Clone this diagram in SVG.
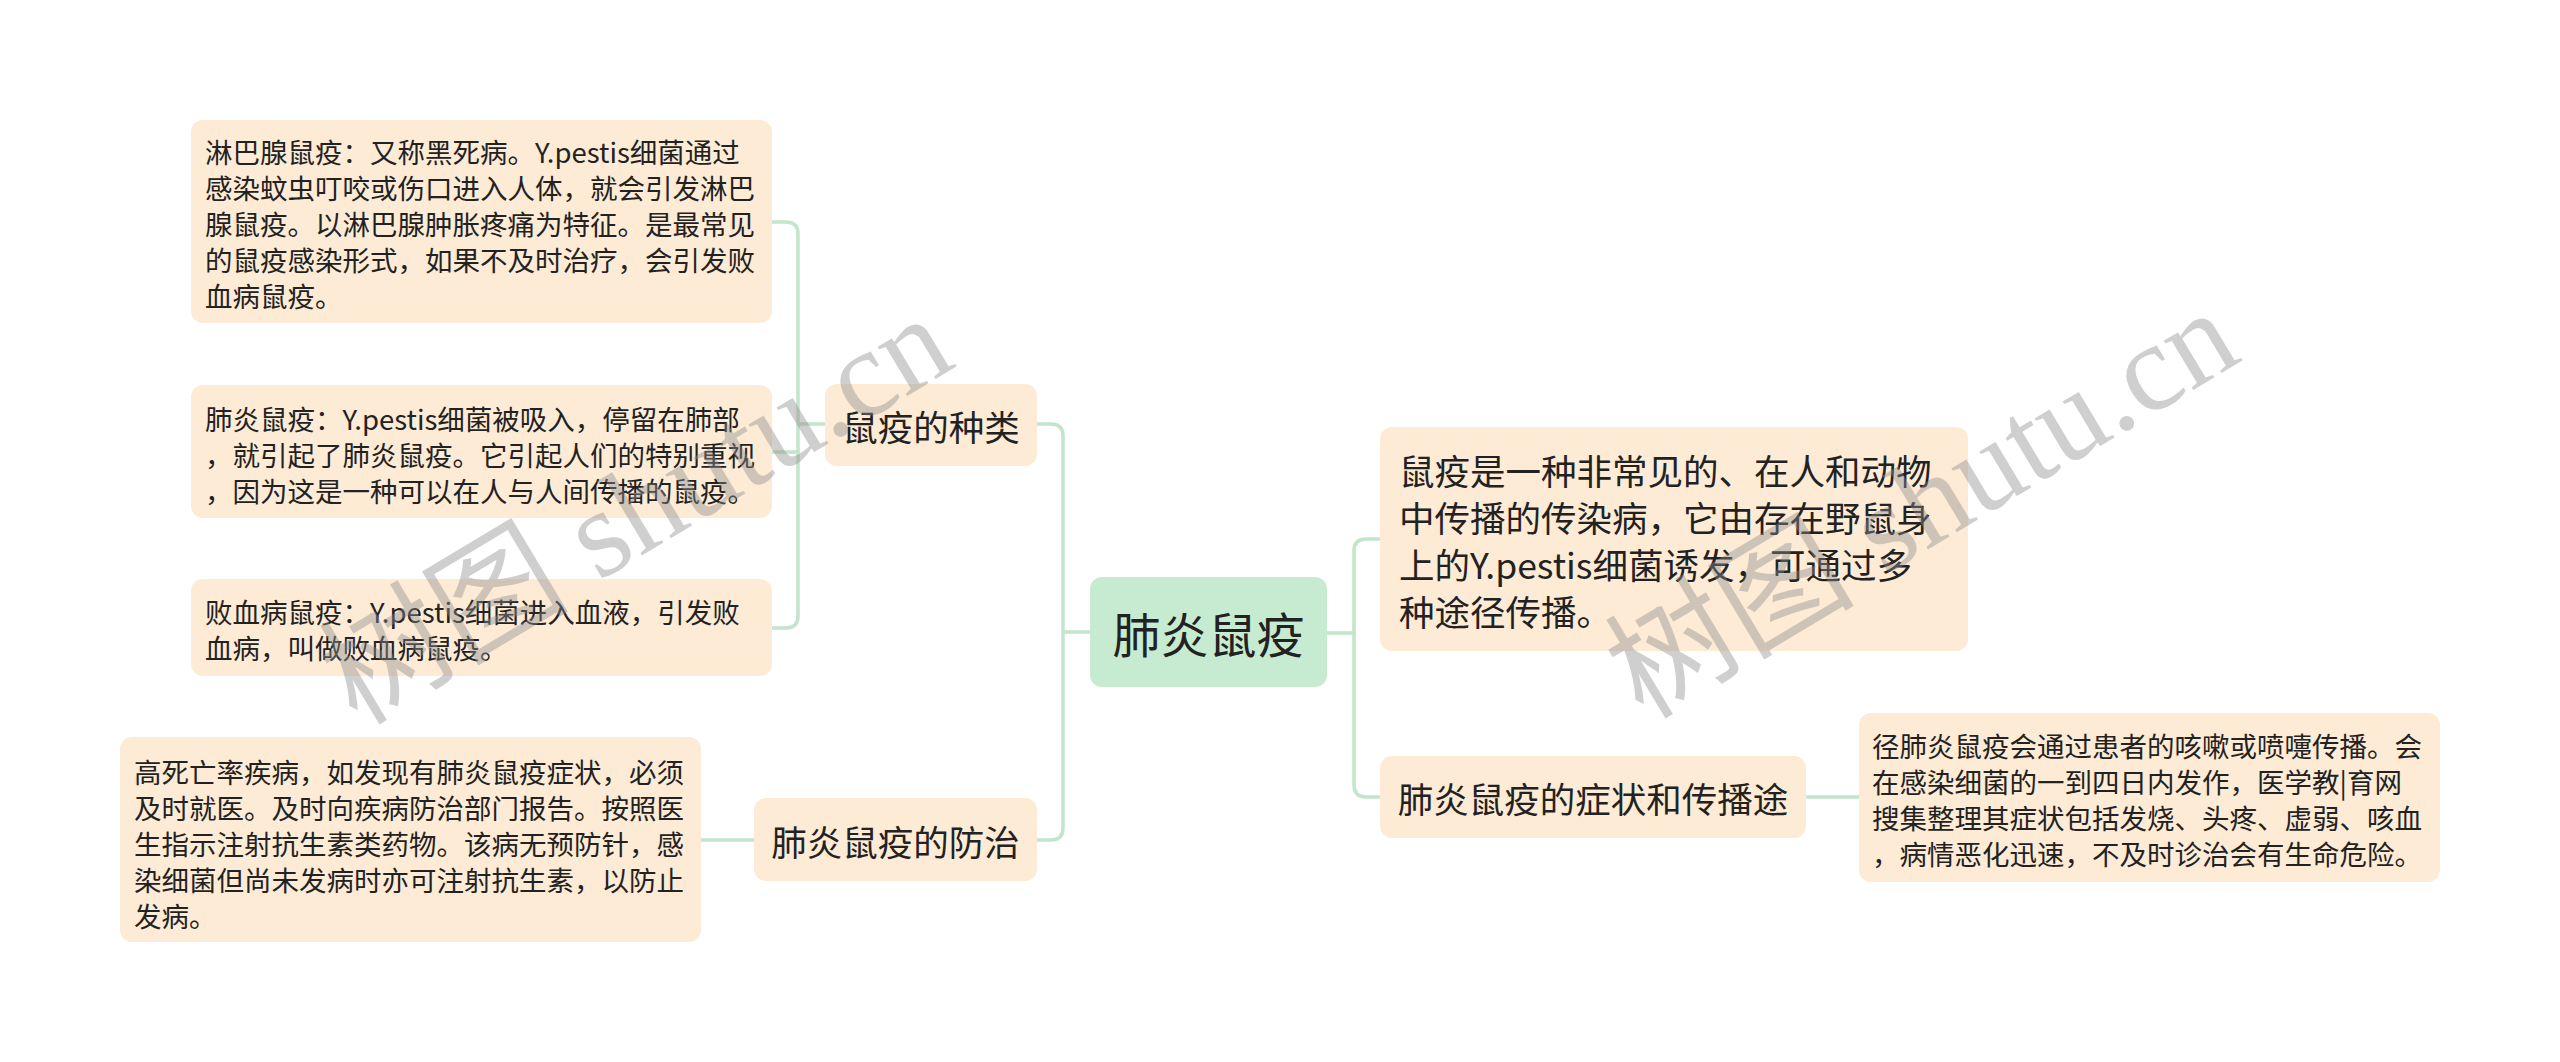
<svg xmlns="http://www.w3.org/2000/svg" width="2560" height="1062" viewBox="0 0 2560 1062">
<style>
.bg{fill:#ffffff}
.box{fill:#fdebd6}
.root{fill:#c6ebd0}
.t{font-family:"Noto Sans CJK SC","Noto Sans",sans-serif;fill:#222222}
.leaf{font-size:27.5px}
.l1{font-size:35.5px}
.rt{font-size:48px}
.c{text-anchor:middle;dominant-baseline:central}
.conn{fill:none;stroke:#c3e5cb;stroke-width:3.5;stroke-linecap:round}
.wm{font-family:"Liberation Serif","Noto Sans CJK SC",serif;font-size:125px;fill:#8c8c8c;fill-opacity:0.42}
</style>
<rect class="bg" x="0" y="0" width="2560" height="1062"/>
<g id="connectors">
<path class="conn" d="M1090,632 H1063"/>
<path class="conn" d="M1037,424 H1051 Q1063,424 1063,436 V828 Q1063,840 1051,840 H1037"/>
<path class="conn" d="M825,424 H798"/>
<path class="conn" d="M772,222 H786 Q798,222 798,234 V616 Q798,628 786,628 H772"/>
<path class="conn" d="M772,452 H798"/>
<path class="conn" d="M701,840 H754"/>
<path class="conn" d="M1327,633 H1354"/>
<path class="conn" d="M1380,539 H1366 Q1354,539 1354,551 V785 Q1354,797 1366,797 H1380"/>
<path class="conn" d="M1806,797 H1859"/>
</g>
<g id="root">
<rect class="root" x="1090" y="577" width="237" height="110" rx="12"/>
<text class="t rt c" x="1208.5" y="632">肺炎鼠疫</text>
</g>
<g id="n-types">
<rect class="box" x="825" y="384" width="212" height="82" rx="12"/>
<text class="t l1 c" x="931" y="425">鼠疫的种类</text>
</g>
<g id="n-prevent">
<rect class="box" x="754" y="798" width="283" height="83" rx="12"/>
<text class="t l1 c" x="895.5" y="840">肺炎鼠疫的防治</text>
</g>
<g id="n-desc">
<rect class="box" x="1380" y="427" width="588" height="224" rx="12"/>
<text class="t l1" x="1399" y="485">鼠疫是一种非常见的、在人和动物</text>
<text class="t l1" x="1399" y="532">中传播的传染病，它由存在野鼠身</text>
<text class="t l1" x="1399" y="579">上的Y.pestis细菌诱发，可通过多</text>
<text class="t l1" x="1399" y="626">种途径传播。</text>
</g>
<g id="n-symptom">
<rect class="box" x="1380" y="756" width="426" height="82" rx="12"/>
<text class="t l1 c" x="1593" y="797">肺炎鼠疫的症状和传播途</text>
</g>
<g id="leaf-lymph">
<rect class="box" x="191" y="120" width="581" height="203" rx="12"/>
<text class="t leaf" x="205" y="163">淋巴腺鼠疫：又称黑死病。Y.pestis细菌通过</text>
<text class="t leaf" x="205" y="199">感染蚊虫叮咬或伤口进入人体，就会引发淋巴</text>
<text class="t leaf" x="205" y="235">腺鼠疫。以淋巴腺肿胀疼痛为特征。是最常见</text>
<text class="t leaf" x="205" y="271">的鼠疫感染形式，如果不及时治疗，会引发败</text>
<text class="t leaf" x="205" y="307">血病鼠疫。</text>
</g>
<g id="leaf-pneumonic">
<rect class="box" x="191" y="385" width="581" height="133" rx="12"/>
<text class="t leaf" x="205" y="430">肺炎鼠疫：Y.pestis细菌被吸入，停留在肺部</text>
<text class="t leaf" x="205" y="466">，就引起了肺炎鼠疫。它引起人们的特别重视</text>
<text class="t leaf" x="205" y="502">，因为这是一种可以在人与人间传播的鼠疫。</text>
</g>
<g id="leaf-septic">
<rect class="box" x="191" y="579" width="581" height="97" rx="12"/>
<text class="t leaf" x="205" y="623">败血病鼠疫：Y.pestis细菌进入血液，引发败</text>
<text class="t leaf" x="205" y="659">血病，叫做败血病鼠疫。</text>
</g>
<g id="leaf-prevent">
<rect class="box" x="120" y="737" width="581" height="205" rx="12"/>
<text class="t leaf" x="134" y="783">高死亡率疾病，如发现有肺炎鼠疫症状，必须</text>
<text class="t leaf" x="134" y="819">及时就医。及时向疾病防治部门报告。按照医</text>
<text class="t leaf" x="134" y="855">生指示注射抗生素类药物。该病无预防针，感</text>
<text class="t leaf" x="134" y="891">染细菌但尚未发病时亦可注射抗生素，以防止</text>
<text class="t leaf" x="134" y="927">发病。</text>
</g>
<g id="leaf-symptom">
<rect class="box" x="1859" y="713" width="581" height="169" rx="12"/>
<text class="t leaf" x="1872" y="757">径肺炎鼠疫会通过患者的咳嗽或喷嚏传播。会</text>
<text class="t leaf" x="1872" y="793">在感染细菌的一到四日内发作，医学教|育网</text>
<text class="t leaf" x="1872" y="829">搜集整理其症状包括发烧、头疼、虚弱、咳血</text>
<text class="t leaf" x="1872" y="865">，病情恶化迅速，不及时诊治会有生命危险。</text>
</g>
<g id="watermarks">
<text class="wm c" transform="translate(636,510) rotate(-31)">树图 shutu.cn</text>
<text class="wm c" transform="translate(1922,504) rotate(-31)">树图 shutu.cn</text>
</g>
</svg>
